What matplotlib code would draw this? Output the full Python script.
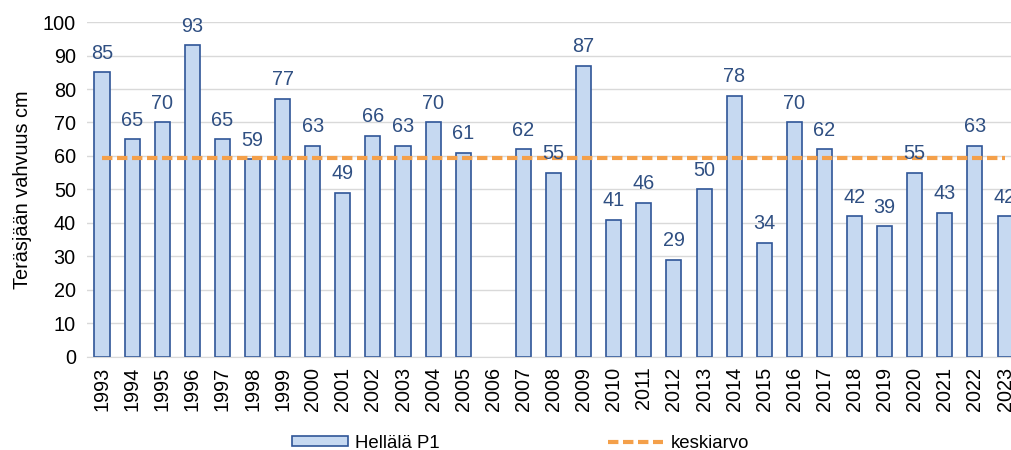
"""Hellälä P1 teräsjään vahvuus pylväskuvana."""

import matplotlib

matplotlib.use("Agg")
import matplotlib.pyplot as plt
import numpy as np

years = [str(y) for y in range(1993, 2024)]
values = [85, 65, 70, 93, 65, 59, 77, 63, 49, 66, 63, 70, 61, None,
          62, 55, 87, 41, 46, 29, 50, 78, 34, 70, 62, 42, 39, 55, 43, 63, 42]
mean_value = 59.5

plt.rcParams["font.family"] = ["Liberation Sans", "DejaVu Sans"]
plt.rcParams["font.size"] = 14.3

fig = plt.figure(figsize=(10.11, 4.5), dpi=100)
ax = fig.add_axes([0.086, 0.207, 0.923, 0.744])

x = np.arange(len(years))
heights = np.array([v if v is not None else 0 for v in values], dtype=float)
mask = np.array([v is not None for v in values])
bars = ax.bar(x[mask], heights[mask], width=0.5, color="#C6D9F1",
              edgecolor="#2F5597", linewidth=1.2, label="Hellälä P1", zorder=2)
line, = ax.plot(x, [mean_value] * len(x), color="#F4A04A", linestyle=(0, (2.5, 1.1)),
                linewidth=3, label="keskiarvo", zorder=3)

for xi, v in zip(x[mask], heights[mask]):
    ax.annotate(f"{int(v)}", (xi, v), xytext=(0, 7), textcoords="offset points",
                ha="center", va="bottom", color="#2F4F82")

ax.set_xlim(-0.5, len(years) - 0.5)
ax.set_ylim(0, 100)
ax.set_yticks(range(0, 101, 10))
ax.set_xticks(x)
ax.set_xticklabels(years, rotation=90)
ax.tick_params(axis="both", length=0, colors="#000000")
ax.tick_params(axis="x", pad=7)
ax.tick_params(axis="y", pad=8)
ax.grid(axis="y", color="#D9D9D9", linewidth=1, zorder=0)
for side in ["top", "right", "left"]:
    ax.spines[side].set_visible(False)
ax.spines["bottom"].set_color("#D9D9D9")
ax.set_ylabel("Teräsjään vahvuus cm", labelpad=8)

fig.legend(handles=[bars, line], loc="center", bbox_to_anchor=(0.515, 0.015), ncol=2,
           frameon=False, fontsize=13.4, handlelength=3.0, handleheight=0.45,
           columnspacing=9.0, handletextpad=0.4)

fig.savefig("out.png", dpi=100)
plt.close(fig)
